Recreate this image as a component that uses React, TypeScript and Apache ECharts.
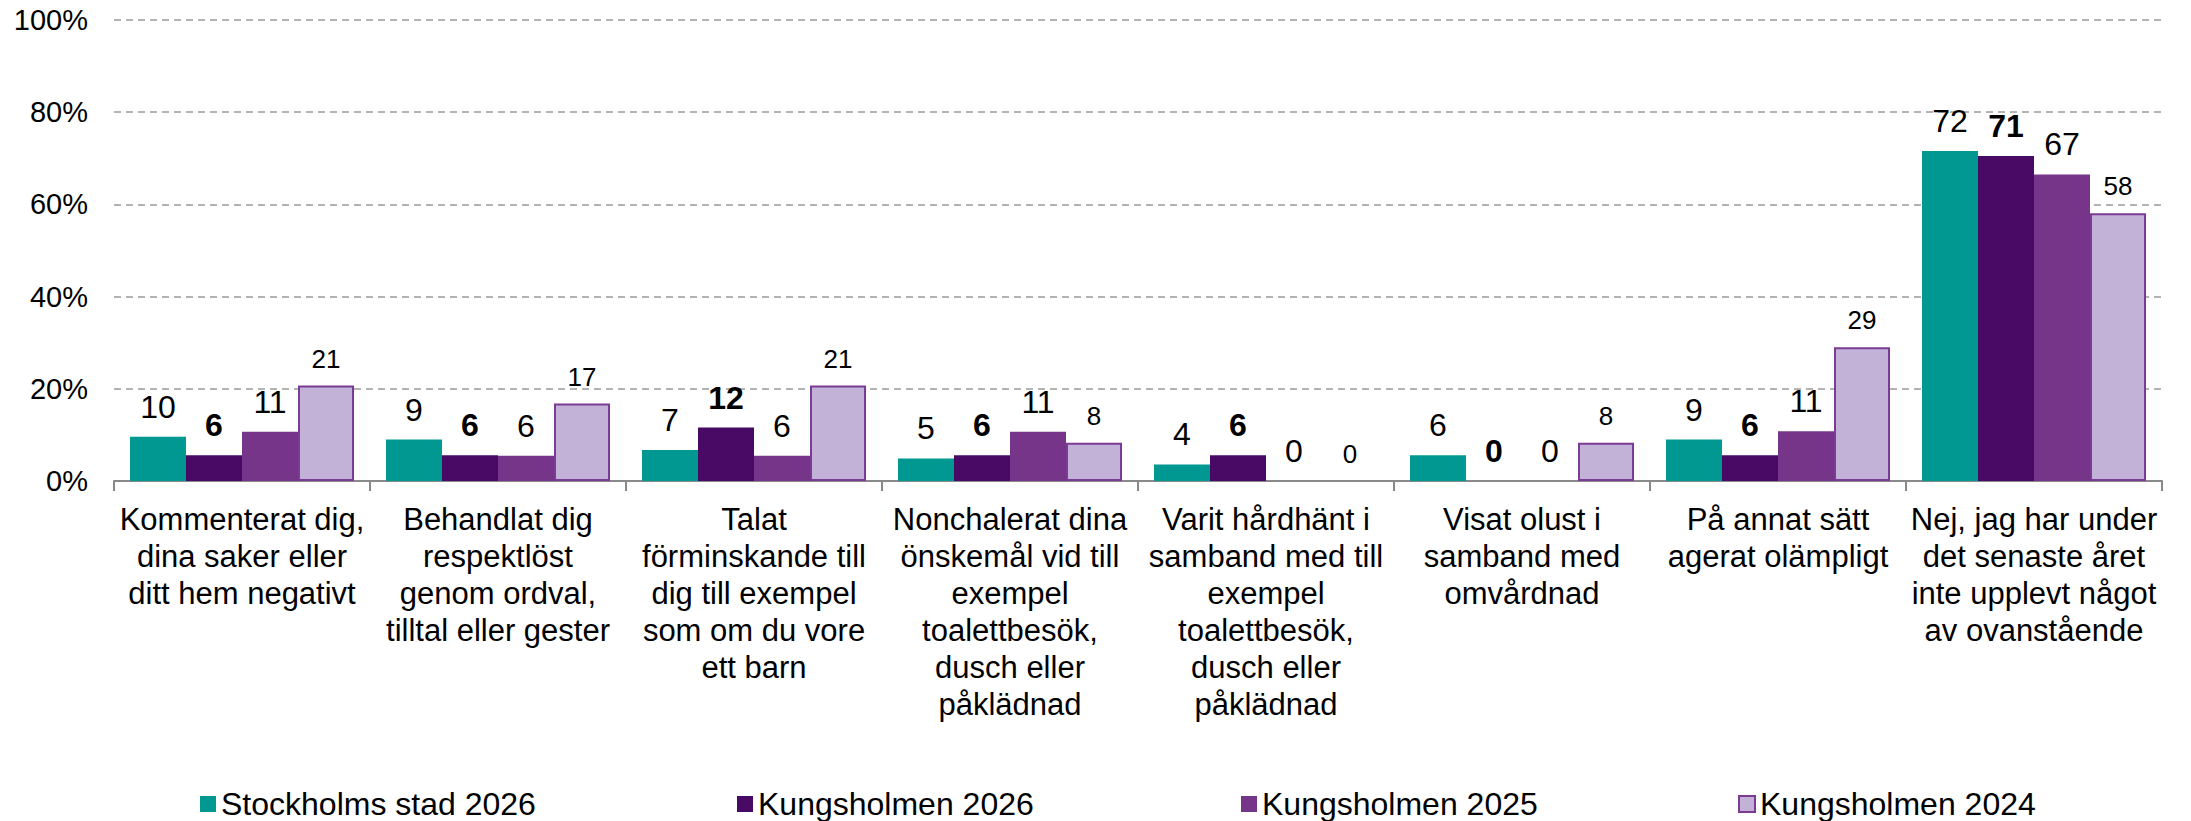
import React, { useEffect, useRef } from "react";
import * as echarts from "echarts";

const categories = [
  "Kommenterat dig,\ndina saker eller\nditt hem negativt",
  "Behandlat dig\nrespektlöst\ngenom ordval,\ntilltal eller gester",
  "Talat\nförminskande till\ndig till exempel\nsom om du vore\nett barn",
  "Nonchalerat dina\nönskemål vid till\nexempel\ntoalettbesök,\ndusch eller\npåklädnad",
  "Varit hårdhänt i\nsamband med till\nexempel\ntoalettbesök,\ndusch eller\npåklädnad",
  "Visat olust i\nsamband med\nomvårdnad",
  "På annat sätt\nagerat olämpligt",
  "Nej, jag har under\ndet senaste året\ninte upplevt något\nav ovanstående",
];

const seriesNames = [
  "Stockholms stad 2026",
  "Kungsholmen 2026",
  "Kungsholmen 2025",
  "Kungsholmen 2024",
];

const stockholm2026 = [9.6, 9.0, 6.7, 4.9, 3.6, 5.6, 9.0, 71.6];
const kungsholmen2026 = [5.6, 5.6, 11.6, 5.6, 5.6, 0, 5.6, 70.5];
const kungsholmen2025 = [10.7, 5.5, 5.5, 10.7, 0, 0, 10.8, 66.5];
const kungsholmen2024 = [20.7, 16.8, 20.7, 8.3, 0, 8.3, 29.0, 58.1];

const yTicks = [0, 20, 40, 60, 80, 100];

const colors = ["#009891", "#490a66", "#773589", "#c3b2d8"];
const borderColor = "#7b3b94";
const legendLefts = [200, 737, 1241, 1738];

const FONT = "'Liberation Sans', Arial, sans-serif";

export default function App() {
  const ref = useRef<HTMLDivElement>(null);

  useEffect(() => {
    if (!ref.current) return;
    const chart = echarts.init(ref.current, null, { renderer: "svg" });
    const allData = [stockholm2026, kungsholmen2026, kungsholmen2025, kungsholmen2024];

    const series = allData.map((vals, i) => ({
      name: seriesNames[i],
      type: "bar",
      barGap: "0%",
      barCategoryGap: "12.5%",
      data: vals.map((v) =>
        i === 3 && v === 0
          ? { value: v, itemStyle: { borderWidth: 0 } }
          : v
      ),
      itemStyle: {
        color: colors[i],
        borderColor: i === 3 ? borderColor : colors[i],
        borderWidth: i === 3 ? 2 : 0,
      },
      label: {
        show: true,
        position: "top",
        distance: 14,
        color: "#000",
        fontFamily: FONT,
        fontSize: i === 3 ? 26 : 32,
        fontWeight: i === 1 ? "bold" : "normal",
        formatter: (p: any) => String(Math.round(p.value)),
      },
    }));

    chart.setOption({
      animation: false,
      textStyle: { fontFamily: FONT },
      grid: { left: 114, right: 29, top: 20, bottom: 340, containLabel: false },
      legend: seriesNames.map((n, i) => ({
        data: [n],
        left: legendLefts[i],
        top: 788,
        padding: 0,
        icon: "rect",
        itemWidth: 16,
        itemHeight: 16,
        itemGap: 8,
        textStyle: { fontSize: 32, color: "#000", fontFamily: FONT },
      })),
      xAxis: {
        type: "category",
        data: categories,
        axisLine: { show: true, lineStyle: { color: "#898989", width: 2 } },
        axisTick: { show: true, length: 10, lineStyle: { color: "#898989", width: 2 } },
        axisLabel: {
          interval: 0,
          margin: 20,
          fontSize: 31,
          lineHeight: 37,
          color: "#000",
          fontFamily: FONT,
          align: "center",
        },
      },
      yAxis: {
        type: "value",
        min: yTicks[0],
        max: yTicks[yTicks.length - 1],
        interval: 20,
        axisLine: { show: false },
        axisTick: { show: false },
        axisLabel: {
          formatter: "{value}%",
          fontSize: 29,
          color: "#000",
          fontFamily: FONT,
          margin: 26,
        },
        splitLine: {
          show: true,
          lineStyle: { color: "#b3b3b3", width: 2, type: [7, 5] },
        },
      },
      series,
    });

    return () => chart.dispose();
  }, []);

  return (
    <div
      ref={ref}
      style={{ position: "fixed", left: 0, top: 0, width: 2191, height: 821, background: "#fff" }}
    />
  );
}
